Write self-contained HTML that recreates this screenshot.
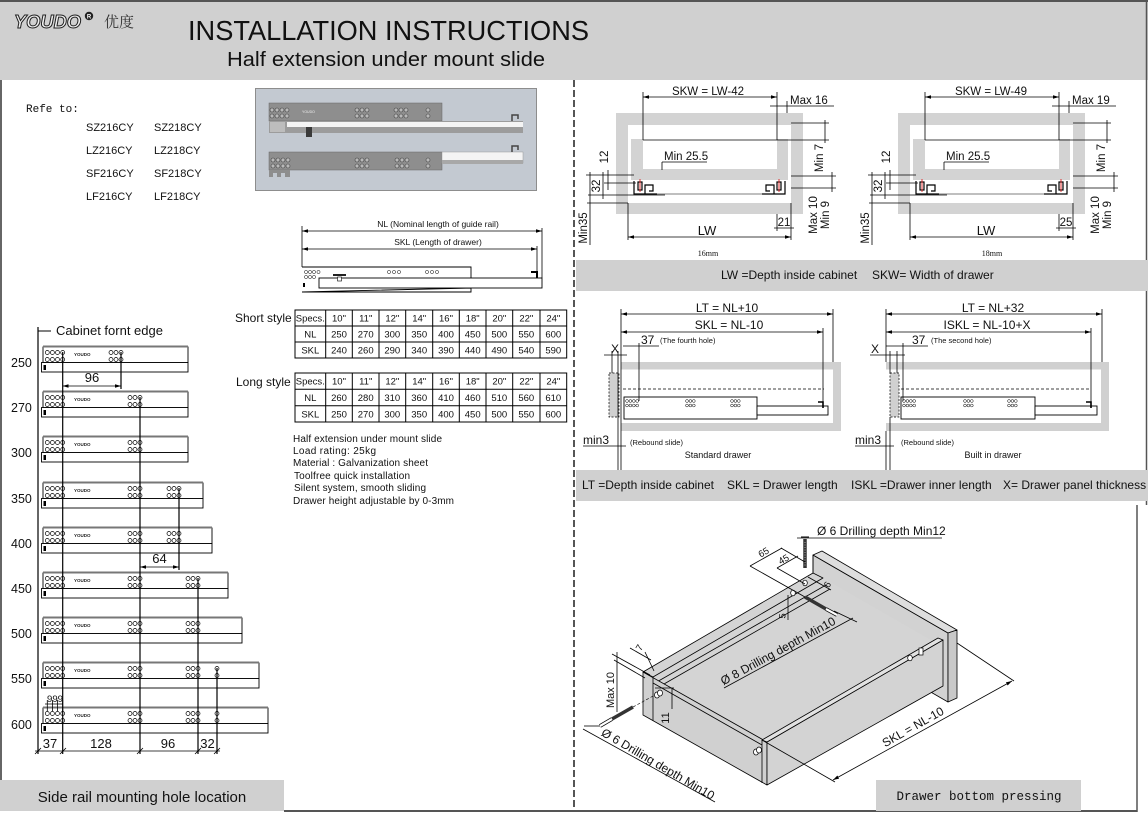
<!DOCTYPE html>
<html><head><meta charset="utf-8">
<style>
html,body{margin:0;padding:0;background:#fff;width:1148px;height:813px;overflow:hidden;}
svg{display:block;font-family:"Liberation Sans",Arial,sans-serif;}
.t{fill:#111;}
.dl{stroke:#000;stroke-width:0.8;fill:none;}
.rail rect{fill:#fff;stroke:#000;stroke-width:0.9;}
.vc{text-anchor:middle;dominant-baseline:central;}
</style></head><body>
<svg width="1148" height="813" viewBox="0 0 1148 813" xmlns="http://www.w3.org/2000/svg">
<defs>
<marker id="ar" viewBox="0 0 10 10" refX="10" refY="5" markerUnits="userSpaceOnUse" markerWidth="6" markerHeight="6" orient="auto-start-reverse"><path d="M0,2 L10,5 L0,8z" fill="#000"/></marker>
<g id="c4" fill="#fff" stroke="#000" stroke-width="0.7"><circle cx="47.3" cy="0" r="2"/><circle cx="52.4" cy="0" r="2"/><circle cx="57.5" cy="0" r="2"/><circle cx="62.7" cy="0" r="2"/><circle cx="47.3" cy="7" r="2"/><circle cx="52.4" cy="7" r="2"/><circle cx="57.5" cy="7" r="2"/><circle cx="62.7" cy="7" r="2"/></g>
<g id="c3" fill="#fff" stroke="#000" stroke-width="0.7"><circle cx="-10" cy="0" r="2"/><circle cx="-5" cy="0" r="2"/><circle cx="0" cy="0" r="2"/><circle cx="-10" cy="7" r="2"/><circle cx="-5" cy="7" r="2"/><circle cx="0" cy="7" r="2"/></g>
<g id="c1" fill="#fff" stroke="#000" stroke-width="0.7"><circle cx="0" cy="0" r="2"/><circle cx="0" cy="7" r="2"/></g>
<g id="h4" fill="#fff" stroke="#000" stroke-width="0.5"><circle cx="0" cy="0" r="1.4"/><circle cx="3.4" cy="0" r="1.4"/><circle cx="6.8" cy="0" r="1.4"/><circle cx="10.2" cy="0" r="1.4"/><circle cx="0" cy="4.5" r="1.4"/><circle cx="3.4" cy="4.5" r="1.4"/><circle cx="6.8" cy="4.5" r="1.4"/><circle cx="10.2" cy="4.5" r="1.4"/></g>
<g id="h3" fill="#fff" stroke="#000" stroke-width="0.5"><circle cx="0" cy="0" r="1.4"/><circle cx="3.4" cy="0" r="1.4"/><circle cx="6.8" cy="0" r="1.4"/><circle cx="0" cy="4.5" r="1.4"/><circle cx="3.4" cy="4.5" r="1.4"/><circle cx="6.8" cy="4.5" r="1.4"/></g>
<g id="p4" fill="#b9b9b9" stroke="#444" stroke-width="0.6"><circle cx="0" cy="0" r="2"/><circle cx="5" cy="0" r="2"/><circle cx="10" cy="0" r="2"/><circle cx="15" cy="0" r="2"/><circle cx="0" cy="6" r="2"/><circle cx="5" cy="6" r="2"/><circle cx="10" cy="6" r="2"/><circle cx="15" cy="6" r="2"/></g>
<g id="p3" fill="#b9b9b9" stroke="#444" stroke-width="0.6"><circle cx="0" cy="0" r="2"/><circle cx="5" cy="0" r="2"/><circle cx="10" cy="0" r="2"/><circle cx="0" cy="6" r="2"/><circle cx="5" cy="6" r="2"/><circle cx="10" cy="6" r="2"/></g>
<g id="sec">
<rect x="616" y="113" width="187" height="101" fill="#d3d3d3"/>
<rect x="628" y="125" width="163" height="78" fill="#fff"/>
<path d="M631 139 H643 V169 H777 V139 H788 V180 H631 Z" fill="#d3d3d3"/>
<g fill="none" stroke="#000" stroke-width="1.2">
<path d="M634 181 V194 H657"/><path d="M645 194 V185 H653 V191 H649"/><rect x="638" y="182" width="4" height="8"/>
<path d="M785 181 V194 H762"/><path d="M774 194 V185 H766 V191 H770"/><rect x="777" y="182" width="4" height="8"/>
</g>
<line x1="640" y1="179" x2="640" y2="192" stroke="#d22" stroke-width="0.9"/>
<line x1="779" y1="179" x2="779" y2="192" stroke="#d22" stroke-width="0.9"/>
<line x1="657" y1="194" x2="762" y2="194" stroke="#000" stroke-width="0.6"/>
<g class="dl">
<line x1="643" y1="97" x2="777" y2="97" marker-start="url(#ar)" marker-end="url(#ar)"/>
<line x1="643" y1="92" x2="643" y2="140"/><line x1="777" y1="92" x2="777" y2="140"/>
<line x1="770" y1="106" x2="834" y2="106"/><line x1="787" y1="101" x2="787" y2="113"/>
<line x1="791" y1="123" x2="829" y2="123"/><line x1="643" y1="140" x2="829" y2="140"/>
<line x1="825" y1="120" x2="825" y2="143"/>
<line x1="791" y1="176" x2="836" y2="176"/><line x1="791" y1="188" x2="836" y2="188"/>
<line x1="832" y1="172" x2="832" y2="192"/>
<line x1="774" y1="228" x2="794" y2="228"/><line x1="777" y1="214" x2="777" y2="231"/><line x1="791" y1="203" x2="791" y2="240"/>
<line x1="628" y1="237" x2="791" y2="237" marker-start="url(#ar)" marker-end="url(#ar)"/><line x1="628" y1="203" x2="628" y2="240"/>
<line x1="662" y1="162" x2="707" y2="162"/><line x1="662" y1="162" x2="662" y2="170"/>
<line x1="608" y1="170" x2="608" y2="190"/><line x1="604" y1="175" x2="634" y2="175"/><line x1="604" y1="183" x2="636" y2="183"/>
<line x1="603" y1="172" x2="603" y2="199"/><line x1="588" y1="195" x2="665" y2="195"/>
<line x1="590" y1="172" x2="590" y2="245"/><line x1="587" y1="203" x2="628" y2="203"/><line x1="586" y1="175" x2="604" y2="175"/>
</g>
</g>
</defs>

<!-- header -->
<rect x="0" y="0" width="1148" height="80" fill="#d0d0d0"/>
<line x1="0" y1="1" x2="1148" y2="1" stroke="#555" stroke-width="2"/>
<text x="14" y="28" font-size="18" font-style="italic" font-weight="bold" fill="#f0f0f0" stroke="#222" stroke-width="1" textLength="67" lengthAdjust="spacingAndGlyphs">YOUDO</text>
<circle cx="89" cy="16" r="4.2" fill="#222"/><text x="89" y="18.5" font-size="6" fill="#fff" text-anchor="middle" font-weight="bold">R</text>
<text x="104" y="27" font-size="15" fill="#333" font-family="'Noto Serif CJK SC','Noto Sans CJK SC',serif">优度</text>
<text x="188" y="40" font-size="28" class="t" textLength="401" lengthAdjust="spacingAndGlyphs">INSTALLATION INSTRUCTIONS</text>
<text x="227" y="66" font-size="20" class="t" textLength="318" lengthAdjust="spacingAndGlyphs">Half extension under mount slide</text>

<!-- borders -->
<line x1="1" y1="80" x2="1" y2="780" stroke="#333" stroke-width="1.5"/>
<line x1="284" y1="811" x2="1137" y2="811" stroke="#555" stroke-width="2"/>
<line x1="1146.5" y1="0" x2="1146.5" y2="505" stroke="#555" stroke-width="1.5"/>
<line x1="1137" y1="505" x2="1137" y2="812" stroke="#555" stroke-width="1.5"/>
<line x1="574" y1="80" x2="574" y2="811" stroke="#555" stroke-width="2" stroke-dasharray="7 3"/>

<!-- refe to -->
<text x="26" y="112" font-size="11" font-family="'Liberation Mono','Noto Serif CJK SC',monospace" class="t">Refe to:</text>
<g font-size="11" class="t">
<text x="86" y="131">SZ216CY</text><text x="154" y="131">SZ218CY</text>
<text x="86" y="154">LZ216CY</text><text x="154" y="154">LZ218CY</text>
<text x="86" y="177">SF216CY</text><text x="154" y="177">SF218CY</text>
<text x="86" y="200">LF216CY</text><text x="154" y="200">LF218CY</text>
</g>

<!-- photo -->
<rect x="255.5" y="88.5" width="281" height="102" fill="#c3c9d1" stroke="#8d8d8d"/>
<rect x="269" y="103" width="173" height="18" fill="#8e8e8e" stroke="#666" stroke-width="0.5"/>
<rect x="269" y="121" width="254" height="12" fill="#9c9c9c"/>
<rect x="287" y="122" width="236" height="5" fill="#f4f4f4"/>
<rect x="270" y="122" width="15" height="10" fill="#bdbdbd"/>
<rect x="306" y="127" width="6" height="10" fill="#3a3a3a"/>
<path d="M512 121 V115 H518 V119" stroke="#444" fill="none" stroke-width="1.5"/>
<use href="#p4" x="272" y="110"/><use href="#p3" x="357" y="110"/><use href="#p3" x="396" y="110"/><use href="#p1" x="428" y="110"/>
<circle cx="428" cy="110" r="2" fill="#b9b9b9" stroke="#444" stroke-width="0.6"/><circle cx="428" cy="116" r="2" fill="#b9b9b9" stroke="#444" stroke-width="0.6"/>
<text x="302" y="113" font-size="3.5" fill="#eee">YOUDO</text>
<rect x="269" y="152" width="173" height="18" fill="#8e8e8e" stroke="#666" stroke-width="0.5"/>
<path d="M269 170 H290 V177 H285 V173 H281 V177 H277 V173 H273 V177 H269 Z" fill="#8e8e8e"/>
<rect x="442" y="152" width="81" height="11" fill="#f4f4f4" stroke="#999" stroke-width="0.5"/>
<rect x="442" y="160" width="81" height="4" fill="#a8a8a8"/>
<path d="M512 152 V146 H518 V150" stroke="#444" fill="none" stroke-width="1.5"/>
<use href="#p4" x="273" y="160"/><use href="#p3" x="357" y="160"/><use href="#p3" x="397" y="160"/>
<circle cx="428" cy="160" r="2" fill="#b9b9b9" stroke="#444" stroke-width="0.6"/><circle cx="428" cy="166" r="2" fill="#b9b9b9" stroke="#444" stroke-width="0.6"/>

<!-- NL drawing -->
<text x="438" y="227" font-size="8.5" text-anchor="middle" class="t">NL (Nominal length of guide rail)</text>
<text x="438" y="245" font-size="8.5" text-anchor="middle" class="t">SKL (Length of drawer)</text>
<g class="dl">
<line x1="302" y1="231" x2="542" y2="231" marker-start="url(#ar)" marker-end="url(#ar)"/>
<line x1="302" y1="249" x2="537" y2="249" marker-start="url(#ar)" marker-end="url(#ar)"/>
<line x1="302" y1="226" x2="302" y2="267"/><line x1="542" y1="228" x2="542" y2="278"/><line x1="537" y1="246" x2="537" y2="272"/>
</g>
<path d="M302 267 H471 V278 M471 288 V292 H302 Z" fill="#fff" stroke="#000" stroke-width="0.9"/>
<rect x="319" y="278" width="223" height="10" fill="#fff" stroke="#000" stroke-width="0.9"/>
<path d="M531 272 H537 V278" fill="none" stroke="#000" stroke-width="2"/>
<g fill="#fff" stroke="#000" stroke-width="0.5">
<circle cx="306" cy="272" r="1.6"/><circle cx="310" cy="272" r="1.6"/><circle cx="314" cy="272" r="1.6"/><circle cx="318.5" cy="272" r="1.6"/>
<circle cx="306" cy="277" r="1.6"/><circle cx="310" cy="277" r="1.6"/><circle cx="314" cy="277" r="1.6"/>
<circle cx="389" cy="272" r="1.6"/><circle cx="394" cy="272" r="1.6"/><circle cx="399" cy="272" r="1.6"/>
<circle cx="427" cy="272" r="1.6"/><circle cx="432" cy="272" r="1.6"/><circle cx="437" cy="272" r="1.6"/>
</g>
<rect x="333" y="274" width="13" height="2" fill="#222"/><rect x="337.5" y="277" width="4" height="4" fill="#fff" stroke="#000" stroke-width="0.6"/>
<rect x="303" y="283" width="2" height="4" fill="#000"/>

<!-- tables -->
<text x="235" y="322" font-size="12" class="t">Short style</text>
<text x="236" y="386" font-size="12" class="t">Long style</text>
<g fill="none" stroke="#000" stroke-width="1">
<rect x="295" y="310" width="271.7" height="48"/>
<line x1="295" y1="326" x2="566.7" y2="326"/><line x1="295" y1="342" x2="566.7" y2="342"/>
<rect x="295" y="373" width="271.7" height="49"/>
<line x1="295" y1="389.3" x2="566.7" y2="389.3"/><line x1="295" y1="405.7" x2="566.7" y2="405.7"/>
<path d="M325.7 310V358M352.3 310V358M379 310V358M405.7 310V358M432.7 310V358M459.3 310V358M486 310V358M512.7 310V358M540 310V358"/>
<path d="M325.7 373V422M352.3 373V422M379 373V422M405.7 373V422M432.7 373V422M459.3 373V422M486 373V422M512.7 373V422M540 373V422"/>
</g>
<g font-size="9.5" text-anchor="middle" class="t">
<text x="310.3" y="321.5">Specs.</text><text x="339" y="321.5">10"</text><text x="365.7" y="321.5">11"</text><text x="392.3" y="321.5">12"</text><text x="419.2" y="321.5">14"</text><text x="446" y="321.5">16"</text><text x="472.7" y="321.5">18"</text><text x="499.3" y="321.5">20"</text><text x="526.3" y="321.5">22"</text><text x="553.3" y="321.5">24"</text>
<text x="310.3" y="337.5">NL</text><text x="339" y="337.5">250</text><text x="365.7" y="337.5">270</text><text x="392.3" y="337.5">300</text><text x="419.2" y="337.5">350</text><text x="446" y="337.5">400</text><text x="472.7" y="337.5">450</text><text x="499.3" y="337.5">500</text><text x="526.3" y="337.5">550</text><text x="553.3" y="337.5">600</text>
<text x="310.3" y="353.5">SKL</text><text x="339" y="353.5">240</text><text x="365.7" y="353.5">260</text><text x="392.3" y="353.5">290</text><text x="419.2" y="353.5">340</text><text x="446" y="353.5">390</text><text x="472.7" y="353.5">440</text><text x="499.3" y="353.5">490</text><text x="526.3" y="353.5">540</text><text x="553.3" y="353.5">590</text>
<text x="310.3" y="384.5">Specs.</text><text x="339" y="384.5">10"</text><text x="365.7" y="384.5">11"</text><text x="392.3" y="384.5">12"</text><text x="419.2" y="384.5">14"</text><text x="446" y="384.5">16"</text><text x="472.7" y="384.5">18"</text><text x="499.3" y="384.5">20"</text><text x="526.3" y="384.5">22"</text><text x="553.3" y="384.5">24"</text>
<text x="310.3" y="401">NL</text><text x="339" y="401">260</text><text x="365.7" y="401">280</text><text x="392.3" y="401">310</text><text x="419.2" y="401">360</text><text x="446" y="401">410</text><text x="472.7" y="401">460</text><text x="499.3" y="401">510</text><text x="526.3" y="401">560</text><text x="553.3" y="401">610</text>
<text x="310.3" y="417.5">SKL</text><text x="339" y="417.5">250</text><text x="365.7" y="417.5">270</text><text x="392.3" y="417.5">300</text><text x="419.2" y="417.5">350</text><text x="446" y="417.5">400</text><text x="472.7" y="417.5">450</text><text x="499.3" y="417.5">500</text><text x="526.3" y="417.5">550</text><text x="553.3" y="417.5">600</text>
</g>
<g font-size="10" class="t" lengthAdjust="spacingAndGlyphs">
<text x="293" y="442" textLength="149">Half extension under mount slide</text>
<text x="293" y="454" textLength="83">Load rating: 25kg</text>
<text x="293" y="466" textLength="135">Material : Galvanization sheet</text>
<text x="294" y="479" textLength="116">Toolfree quick installation</text>
<text x="294" y="491" textLength="132">Silent system, smooth sliding</text>
<text x="293" y="504" textLength="161">Drawer height adjustable by 0-3mm</text>
</g>

<!-- left rails -->
<text x="56" y="335" font-size="13" class="t">Cabinet fornt edge</text>
<line x1="38" y1="331" x2="51" y2="331" stroke="#000" stroke-width="1"/>
<g class="rail">
<rect x="43" y="347" width="145" height="15.5"/><rect x="41.5" y="362.5" width="146.5" height="9.5"/>
<rect x="43" y="392" width="145" height="15.5"/><rect x="41.5" y="407.5" width="146.5" height="9.5"/>
<rect x="43" y="437" width="145" height="15.5"/><rect x="41.5" y="452.5" width="146.5" height="9.5"/>
<rect x="43" y="483" width="160" height="15.5"/><rect x="41.5" y="498.5" width="161.5" height="9.5"/>
<rect x="43" y="528" width="169" height="15.5"/><rect x="41.5" y="543.5" width="170.5" height="9.5"/>
<rect x="43" y="573" width="185" height="15.5"/><rect x="41.5" y="588.5" width="186.5" height="9.5"/>
<rect x="43" y="618" width="199" height="15.5"/><rect x="41.5" y="633.5" width="200.5" height="9.5"/>
<rect x="43" y="663" width="216" height="15.5"/><rect x="41.5" y="678.5" width="217.5" height="9.5"/>
<rect x="43" y="708" width="225" height="15.5"/><rect x="41.5" y="723.5" width="226.5" height="9.5"/>
</g>
<g stroke="#777" stroke-width="2">
<line x1="43" y1="346.5" x2="188" y2="346.5"/><line x1="43" y1="391.5" x2="188" y2="391.5"/><line x1="43" y1="436.5" x2="188" y2="436.5"/>
<line x1="43" y1="482.5" x2="203" y2="482.5"/><line x1="43" y1="527.5" x2="212" y2="527.5"/><line x1="43" y1="572.5" x2="228" y2="572.5"/>
<line x1="43" y1="617.5" x2="242" y2="617.5"/><line x1="43" y1="662.5" x2="259" y2="662.5"/><line x1="43" y1="707.5" x2="268" y2="707.5"/>
</g>
<g fill="#000">
<rect x="43.5" y="365" width="2.5" height="5"/><rect x="43.5" y="410" width="2.5" height="5"/><rect x="43.5" y="455" width="2.5" height="5"/>
<rect x="43.5" y="501" width="2.5" height="5"/><rect x="43.5" y="546" width="2.5" height="5"/><rect x="43.5" y="591" width="2.5" height="5"/>
<rect x="43.5" y="636" width="2.5" height="5"/><rect x="43.5" y="681" width="2.5" height="5"/><rect x="43.5" y="726" width="2.5" height="5"/>
</g>
<g font-size="4.5" font-weight="bold" fill="#222">
<text x="74" y="356">YOUDO</text><text x="74" y="401">YOUDO</text><text x="74" y="446">YOUDO</text><text x="74" y="492">YOUDO</text><text x="74" y="537">YOUDO</text>
<text x="74" y="582">YOUDO</text><text x="74" y="627">YOUDO</text><text x="74" y="672">YOUDO</text><text x="74" y="717">YOUDO</text>
</g>
<use href="#c4" y="352.5"/><use href="#c3" x="121" y="352.5"/>
<use href="#c4" y="397.5"/><use href="#c3" x="140" y="397.5"/>
<use href="#c4" y="442.5"/><use href="#c3" x="140" y="442.5"/>
<use href="#c4" y="488.5"/><use href="#c3" x="140" y="488.5"/><use href="#c3" x="179" y="488.5"/>
<use href="#c4" y="533.5"/><use href="#c3" x="140" y="533.5"/><use href="#c3" x="179" y="533.5"/>
<use href="#c4" y="578.5"/><use href="#c3" x="140" y="578.5"/><use href="#c3" x="198" y="578.5"/>
<use href="#c4" y="623.5"/><use href="#c3" x="140" y="623.5"/><use href="#c3" x="198" y="623.5"/>
<use href="#c4" y="668.5"/><use href="#c3" x="140" y="668.5"/><use href="#c3" x="198" y="668.5"/><use href="#c1" x="217" y="668.5"/>
<use href="#c4" y="713.5"/><use href="#c3" x="140" y="713.5"/><use href="#c3" x="198" y="713.5"/><use href="#c1" x="217" y="713.5"/>
<g font-size="12.5" class="t">
<text x="11" y="367">250</text><text x="11" y="412">270</text><text x="11" y="457">300</text><text x="11" y="503">350</text><text x="11" y="548">400</text>
<text x="11" y="593">450</text><text x="11" y="638">500</text><text x="11" y="683">550</text><text x="11" y="729">600</text>
</g>
<g stroke="#000" stroke-width="1.2">
<line x1="38" y1="327" x2="38" y2="754"/>
<line x1="62.7" y1="352" x2="62.7" y2="754"/>
<line x1="121" y1="352" x2="121" y2="389"/>
<line x1="140" y1="397" x2="140" y2="754"/>
<line x1="179" y1="488" x2="179" y2="570"/>
<line x1="198" y1="578" x2="198" y2="754"/>
<line x1="217" y1="668" x2="217" y2="754"/>
</g>
<g class="dl">
<line x1="62.7" y1="386" x2="121" y2="386" marker-start="url(#ar)" marker-end="url(#ar)"/>
<line x1="140" y1="567" x2="179" y2="567" marker-start="url(#ar)" marker-end="url(#ar)"/>
<line x1="35" y1="751" x2="220" y2="751"/>
<path d="M35 754 L41 748 M60 754 L66 748 M137 754 L143 748 M195 754 L201 748 M214 754 L220 748"/>
<path d="M45 704 H63 M47.3 700 V711 M52.4 700 V711 M57.5 700 V711 M62.7 700 V711"/>
</g>
<text x="47" y="702" font-size="9.5" class="t" textLength="16" lengthAdjust="spacingAndGlyphs">999</text>
<g font-size="13" text-anchor="middle" class="t">
<text x="92" y="382">96</text><text x="159.5" y="563">64</text>
<text x="50" y="748">37</text><text x="101" y="748">128</text><text x="168" y="748">96</text><text x="207.5" y="748">32</text>
</g>
<rect x="0" y="780" width="284" height="31" fill="#d0d0d0"/>
<text x="142" y="802" font-size="15" text-anchor="middle" class="t">Side rail mounting hole location</text>

<!-- top right sections -->
<use href="#sec"/>
<use href="#sec" x="282"/>
<g font-size="11.5" class="t">
<text x="708" y="95" text-anchor="middle">SKW = LW-42</text>
<text x="790" y="104">Max 16</text>
<text x="664" y="160">Min 25.5</text>
<text x="784" y="226" text-anchor="middle">21</text>
<text x="991" y="95" text-anchor="middle">SKW = LW-49</text>
<text x="1072" y="104">Max 19</text>
<text x="946" y="160">Min 25.5</text>
<text x="1066" y="226" text-anchor="middle">25</text>
</g>
<g font-size="13" text-anchor="middle" class="t"><text x="707" y="235">LW</text><text x="986" y="235">LW</text></g>
<g font-size="8" text-anchor="middle" class="t" font-family="'Liberation Serif',serif"><text x="708" y="256">16mm</text><text x="992" y="256">18mm</text></g>
<g font-size="11.5" class="t vc">
<text class="vc" transform="translate(820,158) rotate(-90)">Min 7</text>
<text class="vc" transform="translate(814,215) rotate(-90)">Max 10</text>
<text class="vc" transform="translate(826,215) rotate(-90)">Min 9</text>
<text class="vc" transform="translate(605,157) rotate(-90)">12</text>
<text class="vc" transform="translate(597,186) rotate(-90)">32</text>
<text class="vc" transform="translate(584,228) rotate(-90)">Min35</text>
<text class="vc" transform="translate(1102,158) rotate(-90)">Min 7</text>
<text class="vc" transform="translate(1096,215) rotate(-90)">Max 10</text>
<text class="vc" transform="translate(1108,215) rotate(-90)">Min 9</text>
<text class="vc" transform="translate(887,157) rotate(-90)">12</text>
<text class="vc" transform="translate(879,186) rotate(-90)">32</text>
<text class="vc" transform="translate(866,228) rotate(-90)">Min35</text>
</g>
<rect x="576" y="260" width="572" height="31" fill="#d0d0d0"/>
<text x="721" y="279" font-size="12" class="t">LW =Depth inside cabinet</text>
<text x="872" y="279" font-size="12" class="t">SKW= Width of drawer</text>

<!-- middle right: standard drawer -->
<rect x="621" y="362" width="220" height="7.5" fill="#d0d0d0"/>
<rect x="833" y="362" width="8" height="69" fill="#d0d0d0"/>
<rect x="621" y="423" width="220" height="8" fill="#d0d0d0"/>
<rect x="609" y="373" width="10" height="44" fill="#d0d0d0" stroke="#000" stroke-width="0.7" stroke-dasharray="2 1.5"/>
<line x1="623" y1="389" x2="824" y2="389" stroke="#000" stroke-width="0.8" stroke-dasharray="3 2"/>
<rect x="624" y="397" width="133" height="22" fill="#fff" stroke="#000" stroke-width="0.9"/>
<rect x="757" y="406" width="71" height="9" fill="#fff" stroke="#000" stroke-width="0.9"/>
<path d="M818 402 H823 V408" fill="none" stroke="#000" stroke-width="1.6"/>
<use href="#h4" x="627" y="401"/><use href="#h3" x="687" y="401"/><use href="#h3" x="732" y="401"/>
<g class="dl">
<line x1="621" y1="314" x2="833" y2="314" marker-start="url(#ar)" marker-end="url(#ar)"/>
<line x1="621" y1="332" x2="823" y2="332" marker-start="url(#ar)" marker-end="url(#ar)"/>
<line x1="621" y1="309" x2="621" y2="471"/><line x1="833" y1="309" x2="833" y2="362"/><line x1="823" y1="328" x2="823" y2="404"/>
<line x1="623" y1="346" x2="659" y2="346"/><line x1="639" y1="343" x2="639" y2="401"/>
<line x1="604" y1="355" x2="627" y2="355"/><line x1="612" y1="351" x2="612" y2="373"/><line x1="618" y1="351" x2="618" y2="471"/>
<line x1="583" y1="446" x2="626" y2="446"/>
</g>
<text x="727" y="312" font-size="12" text-anchor="middle" class="t">LT = NL+10</text>
<text x="729" y="329" font-size="12" text-anchor="middle" class="t">SKL = NL-10</text>
<text x="641" y="344" font-size="12" class="t">37</text><text x="660" y="343" font-size="7.5" class="t">(The fourth hole)</text>
<text x="615" y="353" font-size="12" text-anchor="middle" class="t">X</text>
<text x="583" y="444" font-size="12" class="t">min3</text>
<text x="630" y="445" font-size="7.5" class="t">(Rebound slide)</text>
<text x="718" y="458" font-size="9" text-anchor="middle" class="t">Standard drawer</text>

<!-- built in drawer -->
<rect x="886" y="362" width="223" height="7.5" fill="#d0d0d0"/>
<rect x="1101" y="362" width="8" height="69" fill="#d0d0d0"/>
<rect x="886" y="423" width="223" height="8" fill="#d0d0d0"/>
<rect x="890" y="373" width="9" height="44" fill="#d0d0d0" stroke="#000" stroke-width="0.7" stroke-dasharray="2 1.5"/>
<line x1="901" y1="389" x2="1091" y2="389" stroke="#000" stroke-width="0.8" stroke-dasharray="3 2"/>
<rect x="901" y="397" width="134" height="22" fill="#fff" stroke="#000" stroke-width="0.9"/>
<rect x="1035" y="406" width="62" height="9" fill="#fff" stroke="#000" stroke-width="0.9"/>
<path d="M1086 402 H1091 V408" fill="none" stroke="#000" stroke-width="1.6"/>
<use href="#h4" x="904" y="401"/><use href="#h3" x="965" y="401"/><use href="#h3" x="1009" y="401"/>
<g class="dl">
<line x1="886" y1="314" x2="1102" y2="314" marker-start="url(#ar)" marker-end="url(#ar)"/>
<line x1="886" y1="332" x2="1091" y2="332" marker-start="url(#ar)" marker-end="url(#ar)"/>
<line x1="886" y1="309" x2="886" y2="362"/><line x1="1102" y1="309" x2="1102" y2="362"/><line x1="1091" y1="328" x2="1091" y2="404"/>
<line x1="886" y1="346" x2="928" y2="346"/><line x1="903" y1="343" x2="903" y2="401"/>
<line x1="870" y1="355" x2="905" y2="355"/><line x1="890" y1="351" x2="890" y2="373"/><line x1="897" y1="351" x2="897" y2="373"/>
<line x1="886" y1="431" x2="886" y2="471"/><line x1="890" y1="417" x2="890" y2="471"/>
<line x1="855" y1="446" x2="894" y2="446"/>
</g>
<text x="993" y="312" font-size="12" text-anchor="middle" class="t">LT = NL+32</text>
<text x="987" y="329" font-size="12" text-anchor="middle" class="t">ISKL = NL-10+X</text>
<text x="912" y="344" font-size="12" class="t">37</text><text x="931" y="343" font-size="7.5" class="t">(The second hole)</text>
<text x="875" y="353" font-size="12" text-anchor="middle" class="t">X</text>
<text x="855" y="444" font-size="12" class="t">min3</text>
<text x="901" y="445" font-size="7.5" class="t">(Rebound slide)</text>
<text x="993" y="458" font-size="9" text-anchor="middle" class="t">Built in drawer</text>

<rect x="576" y="470" width="572" height="31" fill="#d0d0d0"/>
<g font-size="12" class="t">
<text x="582" y="489">LT =Depth inside cabinet</text>
<text x="727" y="489">SKL = Drawer length</text>
<text x="851" y="489">ISKL =Drawer inner length</text>
<text x="1003" y="489">X= Drawer panel thickness</text>
</g>

<!-- isometric drawer -->
<g stroke="#000" stroke-width="0.8" stroke-linejoin="round">
<path d="M813 555 L948 633 L948 702 L813 624 Z" fill="#d2d2d2"/>
<path d="M813 555 L822 551 L957 630 L948 633 Z" fill="#dedede"/>
<path d="M948 633 L957 630 L957 698 L948 702 Z" fill="#c9c9c9"/>
<path d="M653 677 L823 578 L943 647 L767 742 Z" fill="#d4d4d4" stroke="none"/>
<path d="M643 672 L813 573 L823 578 L653 677 Z" fill="#d4d4d4"/>
<path d="M813 573 L813 555" fill="none"/>
<line x1="655" y1="683" x2="826" y2="585"/>
<line x1="657" y1="688" x2="830" y2="589"/>
<path d="M643 672 L767 742 L767 785 L643 715 Z" fill="#d0d0d0"/>
<line x1="653" y1="677" x2="653" y2="721"/>
<line x1="653" y1="683" x2="762" y2="745"/>
<line x1="762" y1="740" x2="762" y2="783"/>
<path d="M767 742 L943 640 L943 686 L767 785 Z" fill="#d3d3d3"/>
<path d="M762 740 L938 638 L943 640 L767 742 Z" fill="#e2e2e2"/>
</g>
<g fill="#fff" stroke="#000" stroke-width="0.7">
<ellipse cx="657" cy="695" rx="2.5" ry="3"/><ellipse cx="660" cy="693" rx="2.5" ry="3"/>
<ellipse cx="756" cy="752" rx="2.5" ry="3"/><ellipse cx="759" cy="750" rx="2.5" ry="3"/>
<ellipse cx="910" cy="658" rx="2.3" ry="2.8"/><rect x="919" y="648" width="4" height="7"/>
<ellipse cx="793" cy="593" rx="2.3" ry="2.8"/><ellipse cx="805" cy="583" rx="2.3" ry="2.8"/>
</g>
<!-- screws -->
<line x1="805" y1="539" x2="805" y2="568" stroke="#333" stroke-width="3.5"/>
<line x1="805" y1="542" x2="805" y2="566" stroke="#aaa" stroke-width="1" stroke-dasharray="1 1.5"/>
<line x1="801" y1="537" x2="809" y2="537" stroke="#000" stroke-width="1"/>
<line x1="805" y1="597" x2="826" y2="609" stroke="#333" stroke-width="3.5"/>
<line x1="826" y1="609" x2="837" y2="615" stroke="#000" stroke-width="3.8"/>
<line x1="826" y1="609" x2="837" y2="615" stroke="#fff" stroke-width="2.2"/>
<line x1="612" y1="719" x2="633" y2="707" stroke="#333" stroke-width="3.5"/>
<line x1="600" y1="726" x2="612" y2="719" stroke="#000" stroke-width="3.8"/>
<line x1="600" y1="726" x2="612" y2="719" stroke="#fff" stroke-width="2.2"/>
<line x1="633" y1="707" x2="655" y2="695" stroke="#000" stroke-width="0.6" stroke-dasharray="3 2"/>
<g class="dl">
<line x1="797" y1="538" x2="942" y2="538"/>
<line x1="750" y1="566" x2="782" y2="548"/><line x1="750" y1="566" x2="805" y2="597"/><line x1="781" y1="548" x2="805" y2="562"/>
<line x1="777" y1="568" x2="798" y2="556"/><line x1="777" y1="568" x2="805" y2="584"/>
<line x1="808" y1="577" x2="831" y2="590"/>
<line x1="788" y1="595" x2="788" y2="620"/>
<line x1="724" y1="688" x2="853" y2="618"/><line x1="834" y1="611" x2="857" y2="622"/>
<line x1="617" y1="652" x2="617" y2="712"/>
<line x1="612" y1="654" x2="650" y2="675"/><line x1="614" y1="660" x2="645" y2="678"/>
<line x1="630" y1="648" x2="651" y2="660"/><line x1="645" y1="652" x2="654" y2="671"/>
<line x1="672" y1="688" x2="672" y2="709"/><line x1="655" y1="688" x2="674" y2="688"/>
<line x1="583" y1="729" x2="715" y2="802"/><line x1="584" y1="726" x2="600" y2="726"/>
<line x1="833" y1="780" x2="1012" y2="681" marker-start="url(#ar)" marker-end="url(#ar)"/>
<line x1="762" y1="740" x2="835" y2="782"/><line x1="957" y1="643" x2="1014" y2="681"/>
</g>
<g font-size="12" class="t">
<text x="817" y="535">Ø 6 Drilling depth  Min12</text>
<text class="vc" transform="translate(778,651) rotate(-28.6)">Ø 8 Drilling depth  Min10</text>
<text class="vc" transform="translate(658,764) rotate(30.3)">Ø 6 Drilling depth  Min10</text>
<text class="vc" transform="translate(913,727) rotate(-29.5)">SKL = NL-10</text>
<text class="vc" font-size="11" transform="translate(611,690) rotate(-90)">Max 10</text>
<text class="vc" font-size="11" transform="translate(666,718) rotate(-90)">11</text>
</g>
<g font-size="9.5" class="t">
<text class="vc" transform="translate(764,553) rotate(-30)">65</text>
<text class="vc" transform="translate(784,560) rotate(-30)">45</text>
<text class="vc" transform="translate(828,585) rotate(-60)">6</text>
<text class="vc" transform="translate(783,616) rotate(-90)">5</text>
<text class="vc" transform="translate(640,648) rotate(-60)">7</text>
</g>
<rect x="876" y="780" width="205" height="31" fill="#d0d0d0"/>
<text x="979" y="800" font-size="12.5" text-anchor="middle" class="t" font-family="'Liberation Mono','Noto Serif CJK SC',monospace">Drawer bottom pressing</text>
</svg>
</body></html>
